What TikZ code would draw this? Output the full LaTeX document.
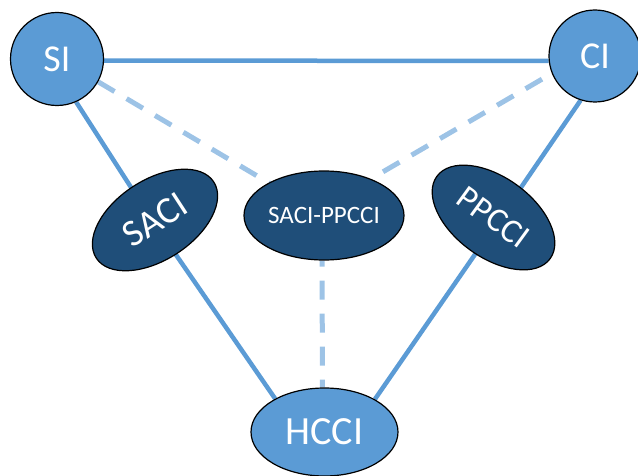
\documentclass[tikz,border=0pt]{standalone}
\usepackage{fontspec}
\setmainfont{Carlito}
\usetikzlibrary{shapes.geometric,backgrounds}
\definecolor{nodeblue}{HTML}{5B9BD5}
\definecolor{deepblue}{HTML}{1F4E79}
\definecolor{softblue}{HTML}{9DC3E6}
\begin{document}
\begin{tikzpicture}[x=1pt,y=1pt,
  regime/.style={circle, draw=black, line width=1.2pt, fill=nodeblue,
    text=white, inner sep=0pt, minimum size=93pt,
    font=\fontsize{38}{40}\selectfont},
  baseell/.style={ellipse, draw=black, line width=1.2pt, fill=nodeblue,
    text=white, inner sep=0pt, minimum width=147pt, minimum height=88pt,
    font=\fontsize{40}{42}\selectfont},
  mixell/.style={ellipse, draw=black, line width=1.2pt, fill=deepblue,
    text=white, inner sep=0pt, minimum width=140pt, minimum height=80pt,
    font=\fontsize{38}{40}\selectfont},
  link/.style={draw=nodeblue, line width=4.5pt},
  hint/.style={draw=softblue, line width=5pt, dash pattern=on 19pt off 14pt}
]
\useasboundingbox (0,0) rectangle (638,475);

% combustion modes
\node[regime] (SI) at (57,416) {SI};
\node[regime, minimum size=92pt] (CI) at (595,419) {CI};
\node[baseell] (HCCI) at (324.5,43) {HCCI};

% intermediate modes
\node[mixell, minimum width=160pt, minimum height=89pt,
  font=\fontsize{25}{27}\selectfont] (SP) at (324,259.5) {SACI-PPCCI};
\node[mixell, rotate=33] (SACI) at (155,255) {SACI};
\node[mixell, rotate=-36, font=\fontsize{34}{36}\selectfont] (PPCCI) at (493.5,257.5) {PPCCI};

% connectors behind the nodes
\begin{scope}[on background layer]
  \draw[link] (SI.-2) -- (CI.186);
  \draw[link] (SI.-66.5) -- ([xshift=-3pt]SACI.center) -- (HCCI.146);
  \draw[link] (CI.-108) -- ([xshift=7pt]PPCCI.center) -- (HCCI.33);
  \draw[hint] (SI.-29) -- (SP.center);
  \draw[hint, dash phase=19pt] (SP.38) -- (CI.202);
  \draw[hint, dash phase=13pt] ([xshift=-2pt]SP.south) -- ([xshift=-2pt]HCCI.north);
\end{scope}
\end{tikzpicture}
\end{document}
